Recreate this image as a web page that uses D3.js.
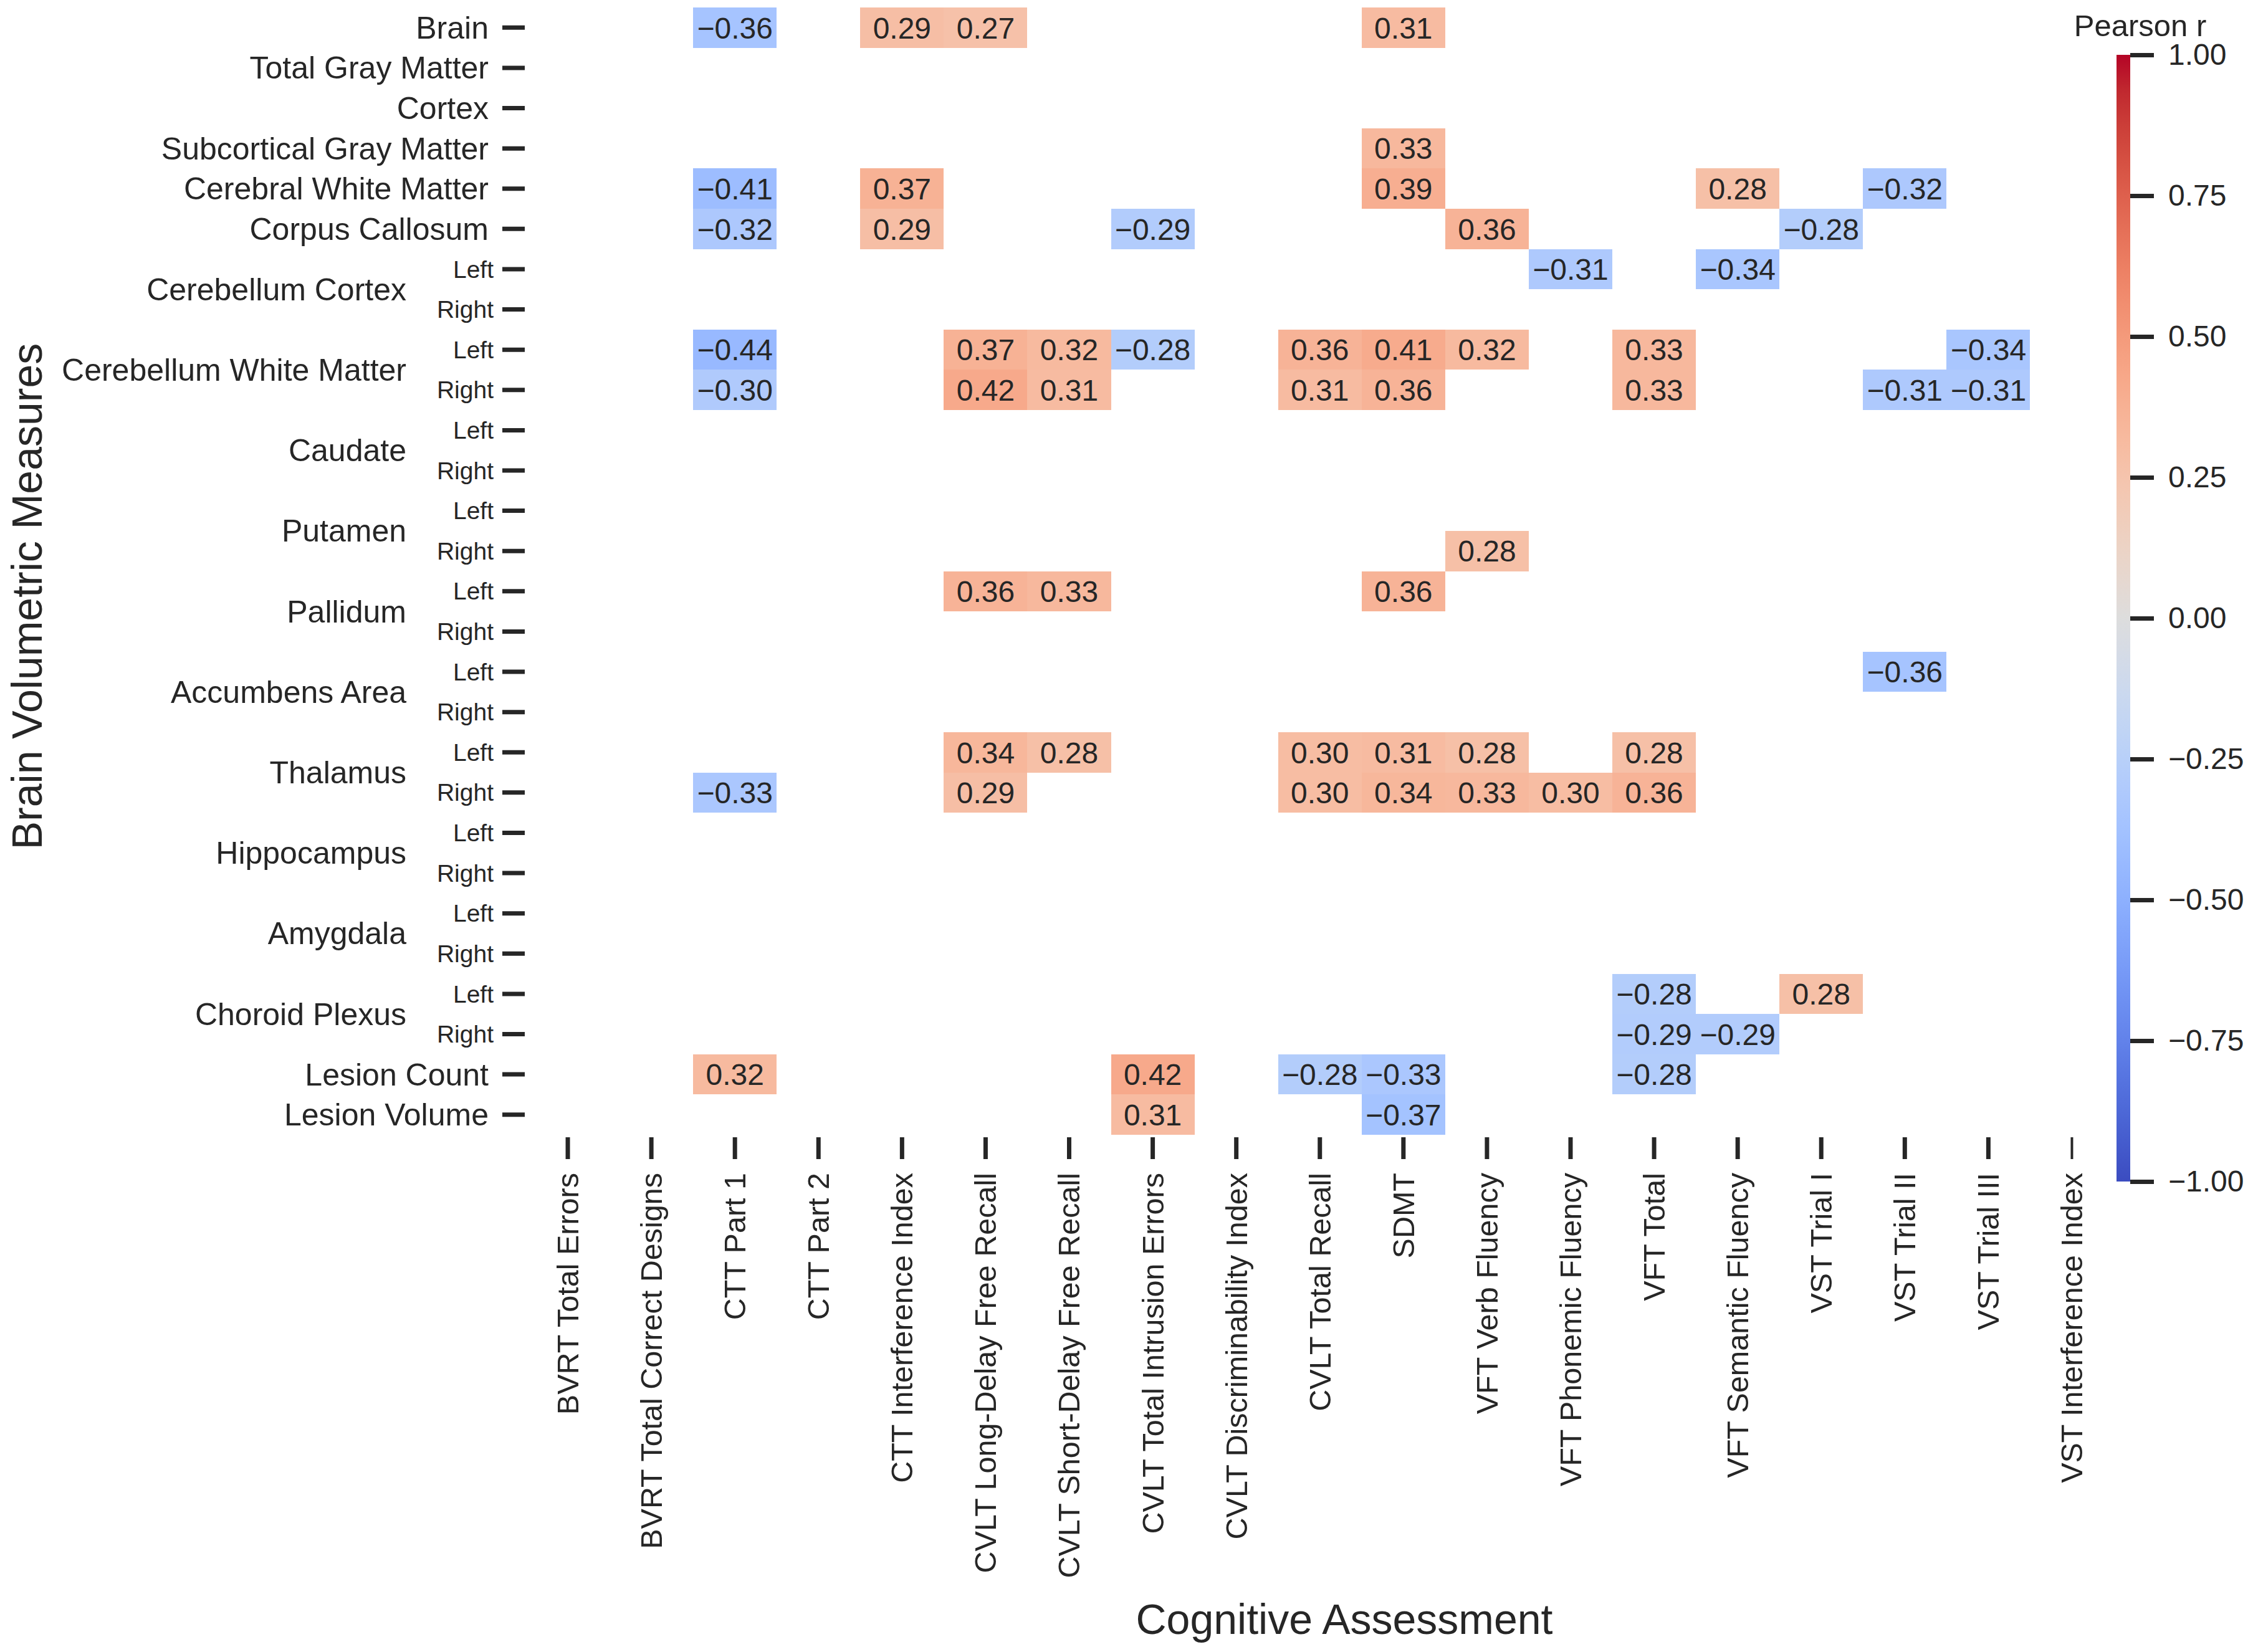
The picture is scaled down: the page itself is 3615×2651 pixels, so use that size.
<!DOCTYPE html>
<html>
<head>
<meta charset="utf-8">
<script src="https://cdn.jsdelivr.net/npm/d3@7"></script>
<style>
  body { margin: 0; background: #fff; }
  text { font-family: "Liberation Sans", Arial, sans-serif; fill: #262626; }
</style>
</head>
<body>
<svg id="chart" width="3615" height="2651"></svg>
<script>
// correlation heatmap: brain volumes vs cognitive tests (only significant r shown)

var assessments = ["BVRT Total Errors", "BVRT Total Correct Designs", "CTT Part 1", "CTT Part 2",
  "CTT Interference Index", "CVLT Long-Delay Free Recall", "CVLT Short-Delay Free Recall",
  "CVLT Total Intrusion Errors", "CVLT Discriminability Index", "CVLT Total Recall", "SDMT",
  "VFT Verb Fluency", "VFT Phonemic Fluency", "VFT Total", "VFT Semantic Fluency",
  "VST Trial I", "VST Trial II", "VST Trial III", "VST Interference Index"];

var regions = ["Brain", "Total Gray Matter", "Cortex", "Subcortical Gray Matter", "Cerebral White Matter",
  "Corpus Callosum", "Cerebellum Cortex", "Cerebellum Cortex", "Cerebellum White Matter",
  "Cerebellum White Matter", "Caudate", "Caudate", "Putamen", "Putamen", "Pallidum", "Pallidum",
  "Accumbens Area", "Accumbens Area", "Thalamus", "Thalamus", "Hippocampus", "Hippocampus",
  "Amygdala", "Amygdala", "Choroid Plexus", "Choroid Plexus", "Lesion Count", "Lesion Volume"];

var sides = ["", "", "", "", "", "", "Left", "Right", "Left", "Right", "Left", "Right", "Left", "Right",
  "Left", "Right", "Left", "Right", "Left", "Right", "Left", "Right", "Left", "Right", "Left", "Right", "", ""];

var _ = null;
var values = [
  [_, _, -0.36, _, 0.29, 0.27, _, _, _, _, 0.31, _, _, _, _, _, _, _, _],
  [_, _, _, _, _, _, _, _, _, _, _, _, _, _, _, _, _, _, _],
  [_, _, _, _, _, _, _, _, _, _, _, _, _, _, _, _, _, _, _],
  [_, _, _, _, _, _, _, _, _, _, 0.33, _, _, _, _, _, _, _, _],
  [_, _, -0.41, _, 0.37, _, _, _, _, _, 0.39, _, _, _, 0.28, _, -0.32, _, _],
  [_, _, -0.32, _, 0.29, _, _, -0.29, _, _, _, 0.36, _, _, _, -0.28, _, _, _],
  [_, _, _, _, _, _, _, _, _, _, _, _, -0.31, _, -0.34, _, _, _, _],
  [_, _, _, _, _, _, _, _, _, _, _, _, _, _, _, _, _, _, _],
  [_, _, -0.44, _, _, 0.37, 0.32, -0.28, _, 0.36, 0.41, 0.32, _, 0.33, _, _, _, -0.34, _],
  [_, _, -0.30, _, _, 0.42, 0.31, _, _, 0.31, 0.36, _, _, 0.33, _, _, -0.31, -0.31, _],
  [_, _, _, _, _, _, _, _, _, _, _, _, _, _, _, _, _, _, _],
  [_, _, _, _, _, _, _, _, _, _, _, _, _, _, _, _, _, _, _],
  [_, _, _, _, _, _, _, _, _, _, _, _, _, _, _, _, _, _, _],
  [_, _, _, _, _, _, _, _, _, _, _, 0.28, _, _, _, _, _, _, _],
  [_, _, _, _, _, 0.36, 0.33, _, _, _, 0.36, _, _, _, _, _, _, _, _],
  [_, _, _, _, _, _, _, _, _, _, _, _, _, _, _, _, _, _, _],
  [_, _, _, _, _, _, _, _, _, _, _, _, _, _, _, _, -0.36, _, _],
  [_, _, _, _, _, _, _, _, _, _, _, _, _, _, _, _, _, _, _],
  [_, _, _, _, _, 0.34, 0.28, _, _, 0.30, 0.31, 0.28, _, 0.28, _, _, _, _, _],
  [_, _, -0.33, _, _, 0.29, _, _, _, 0.30, 0.34, 0.33, 0.30, 0.36, _, _, _, _, _],
  [_, _, _, _, _, _, _, _, _, _, _, _, _, _, _, _, _, _, _],
  [_, _, _, _, _, _, _, _, _, _, _, _, _, _, _, _, _, _, _],
  [_, _, _, _, _, _, _, _, _, _, _, _, _, _, _, _, _, _, _],
  [_, _, _, _, _, _, _, _, _, _, _, _, _, _, _, _, _, _, _],
  [_, _, _, _, _, _, _, _, _, _, _, _, _, -0.28, _, 0.28, _, _, _],
  [_, _, _, _, _, _, _, _, _, _, _, _, _, -0.29, -0.29, _, _, _, _],
  [_, _, 0.32, _, _, _, _, 0.42, _, -0.28, -0.33, _, _, -0.28, _, _, _, _, _],
  [_, _, _, _, _, _, _, 0.31, _, _, -0.37, _, _, _, _, _, _, _, _]
];

var colorTicks = [1, 0.75, 0.5, 0.25, 0, -0.25, -0.5, -0.75, -1];

// coolwarm (Moreland) colour table, 33 stops from -1 to 1
var coolwarm = ["#3b4cc0", "#445acc", "#4d68d7", "#5775e1", "#6282ea", "#6c8ef1", "#779af7", "#82a5fb",
  "#8db0fe", "#98b9ff", "#a3c2ff", "#aec9fd", "#b8d0f9", "#c2d5f4", "#ccd9ee", "#d5dbe6",
  "#dddddd", "#e5d8d1", "#ecd3c5", "#f1ccb9", "#f5c4ad", "#f7bba0", "#f7b194", "#f7a687",
  "#f49a7b", "#f18d6f", "#ec7f63", "#e57058", "#de604d", "#d55042", "#cb3e38", "#c0282f", "#b40426"];

var svg = d3.select("#chart"),
    margin = {top: 12, left: 844, right: 3391.5, bottom: 1821};

var x = d3.scaleBand()
    .domain(assessments)
    .range([margin.left, margin.right]);

var y = d3.scaleBand()
    .domain(d3.range(regions.length))
    .range([margin.top, margin.bottom]);

var color = d3.scaleLinear()
    .domain(d3.range(coolwarm.length).map(function(i) { return -1 + 2 * i / (coolwarm.length - 1); }))
    .range(coolwarm)
    .interpolate(d3.interpolateRgb);

var fmt = d3.format(".2f");

var cells = [];
values.forEach(function(row, i) {
  row.forEach(function(v, j) {
    if (v !== null) cells.push({row: i, col: assessments[j], value: v});
  });
});

// cells
var cell = svg.append("g").selectAll("g")
  .data(cells)
  .enter().append("g");

cell.append("rect")
    .attr("x", function(d) { return x(d.col); })
    .attr("y", function(d) { return y(d.row); })
    .attr("width", x.bandwidth())
    .attr("height", y.bandwidth())
    .attr("shape-rendering", "crispEdges")
    .attr("fill", function(d) { return color(d.value); });

cell.append("text")
    .attr("x", function(d) { return x(d.col) + x.bandwidth() / 2; })
    .attr("y", function(d) { return y(d.row) + y.bandwidth() / 2; })
    .attr("dy", "0.36em")
    .attr("text-anchor", "middle")
    .attr("font-size", 48)
    .text(function(d) { return fmt(d.value); });

// x axis
var xAxis = svg.append("g")
    .attr("transform", "translate(0,1825)")
    .call(d3.axisBottom(x).tickSize(35).tickSizeOuter(0));
xAxis.select(".domain").remove();
xAxis.selectAll(".tick line")
    .attr("stroke", "#262626")
    .attr("stroke-width", function(d, i) { return i == assessments.length - 1 ? 4 : 7; });
xAxis.selectAll(".tick text")
    .attr("font-size", 48.5)
    .attr("fill", "#262626")
    .attr("x", 0)
    .attr("y", 0)
    .attr("dy", "0.35em")
    .attr("text-anchor", "end")
    .attr("transform", "translate(0,57) rotate(-90)");

// y axis
var yAxis = svg.append("g")
    .attr("transform", "translate(" + margin.left + ",0)")
    .call(d3.axisLeft(y).tickSize(38).tickSizeOuter(0)
      .tickFormat(function(i) { return sides[i] || regions[i]; }));
yAxis.select(".domain").remove();
yAxis.selectAll(".tick line")
    .attr("x2", -38)
    .attr("x1", -2)
    .attr("stroke", "#262626")
    .attr("stroke-width", 7);
yAxis.selectAll(".tick text")
    .attr("fill", "#262626")
    .attr("font-size", function(i) { return sides[i] ? 39 : 50; })
    .attr("x", function(i) { return sides[i] ? -52 : -60; })
    .attr("dy", "0.35em");

// group labels for left/right pairs
var groups = regions.filter(function(r, i) { return sides[i] == "Left"; });
svg.append("g").selectAll("text")
  .data(groups)
  .enter().append("text")
    .attr("x", 652)
    .attr("y", function(g) { return y(regions.indexOf(g)) + y.bandwidth(); })
    .attr("dy", "0.35em")
    .attr("text-anchor", "end")
    .attr("font-size", 50)
    .text(function(g) { return g; });

// axis titles
svg.append("text")
    .attr("x", 2157)
    .attr("y", 2622)
    .attr("text-anchor", "middle")
    .attr("font-size", 68)
    .text("Cognitive Assessment");

svg.append("text")
    .attr("transform", "translate(67,957) rotate(-90)")
    .attr("text-anchor", "middle")
    .attr("font-size", 68)
    .text("Brain Volumetric Measures");

// colorbar
var cb = d3.scaleLinear().domain([-1, 1]).range([1896, 88]);

var grad = svg.append("defs").append("linearGradient")
    .attr("id", "cbGrad")
    .attr("x1", 0).attr("y1", 1).attr("x2", 0).attr("y2", 0);
grad.selectAll("stop")
  .data(coolwarm)
  .enter().append("stop")
    .attr("offset", function(d, i) { return i / (coolwarm.length - 1); })
    .attr("stop-color", function(d) { return d; });

svg.append("rect")
    .attr("x", 3396)
    .attr("y", cb(1))
    .attr("width", 22)
    .attr("height", cb(-1) - cb(1))
    .attr("fill", "url(#cbGrad)");

var cbAxis = svg.append("g")
    .attr("transform", "translate(3418,0)")
    .call(d3.axisRight(cb).tickValues(colorTicks).tickFormat(fmt).tickSize(38).tickPadding(23).tickSizeOuter(0));
cbAxis.select(".domain").remove();
cbAxis.selectAll(".tick line")
    .attr("stroke", "#262626")
    .attr("stroke-width", 7);
cbAxis.selectAll(".tick text")
    .attr("fill", "#262626")
    .attr("font-size", 48);

svg.append("text")
    .attr("x", 3434)
    .attr("y", 58)
    .attr("text-anchor", "middle")
    .attr("font-size", 49)
    .text("Pearson r");
</script>
</body>
</html>
